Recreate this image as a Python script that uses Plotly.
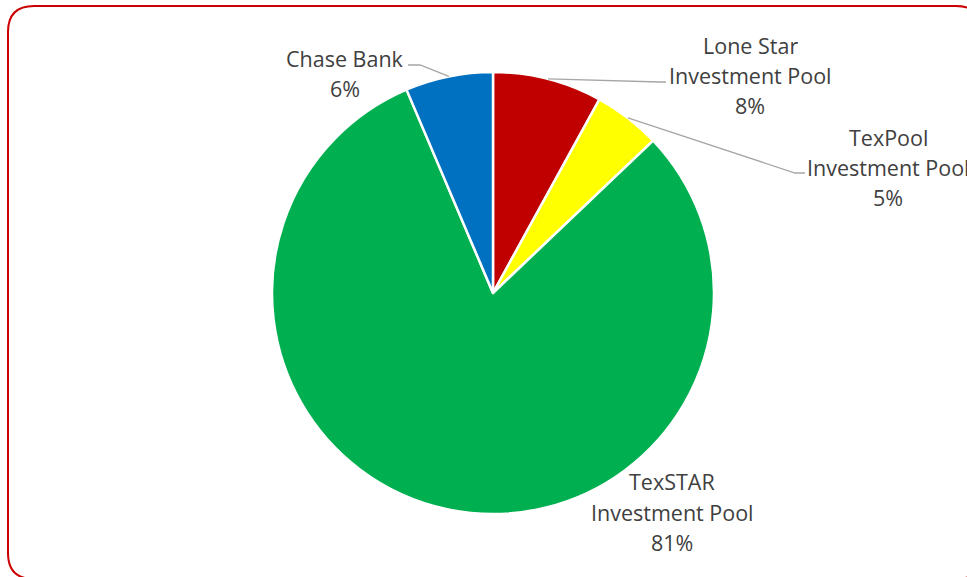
import math
import plotly.graph_objects as go

# ---- data ----
categories = ["Lone Star Investment Pool", "TexPool Investment Pool", "TexSTAR Investment Pool", "Chase Bank"]
values = [8.0, 4.9, 80.7, 6.4]
label_lines = [["Lone Star", "Investment Pool"], ["TexPool", "Investment Pool"], ["TexSTAR", "Investment Pool"], ["Chase Bank"]]
colors = ["#C00000", "#FFFF00", "#00B050", "#0070C0"]

W, H = 967, 577
CX, CY, R = 493, 293, 221

# label layout (pixel): text centre x, first line y, leader elbow (x,y), leader end x
label_layout = [
    dict(cx=750, y0=45, elbow=(660, 82), end=666),
    dict(cx=888, y0=137, elbow=(795, 173), end=805),
    dict(cx=672, y0=482, elbow=None, end=None),
    dict(cx=345, y0=58, elbow=(420, 65), end=408),
]
LINE_H = 30


def px(x, y):
    return x / W, 1 - y / H


fig = go.Figure()
fig.add_trace(go.Pie(
    labels=categories, values=values, sort=False, direction="clockwise", rotation=0,
    marker=dict(colors=colors, line=dict(color="white", width=2.5)),
    textinfo="none", hoverinfo="label+percent", showlegend=False,
    domain=dict(x=[(CX - R) / W, (CX + R) / W], y=[(H - CY - R) / H, (H - CY + R) / H]),
))

total = sum(values)
annotations = []
shapes = []
cum = 0.0
for i, v in enumerate(values):
    mid = (cum + v / 2) / total * 2 * math.pi
    cum += v
    pct = f"{round(v / total * 100)}%"
    lines = label_lines[i] + [pct]
    lay = label_layout[i]
    for k, t in enumerate(lines):
        x, y = px(lay["cx"], lay["y0"] + k * LINE_H)
        annotations.append(dict(x=x, y=y, xref="paper", yref="paper", text=t, showarrow=False,
                                xanchor="center", yanchor="middle",
                                font=dict(family="Open Sans", size=21.5, color="#404040")))
    if lay["elbow"] is not None:
        sx = CX + R * math.sin(mid)
        sy = CY - R * math.cos(mid)
        ex, ey = lay["elbow"]
        p1 = px(sx, sy); p2 = px(ex, ey); p3 = px(lay["end"], ey)
        shapes.append(dict(type="path", xref="paper", yref="paper",
                           path=f"M {p1[0]} {p1[1]} L {p2[0]} {p2[1]} L {p3[0]} {p3[1]}",
                           line=dict(color="#A6A6A6", width=1.3)))

# rounded border
x0, y0, x1, y1, rr = 8, 6, 982, 579, 26
def P(x, y):
    a, b = px(x, y)
    return f"{a} {b}"
path = (f"M {P(x0 + rr, y0)} L {P(x1 - rr, y0)} Q {P(x1, y0)} {P(x1, y0 + rr)} "
        f"L {P(x1, y1 - rr)} Q {P(x1, y1)} {P(x1 - rr, y1)} L {P(x0 + rr, y1)} "
        f"Q {P(x0, y1)} {P(x0, y1 - rr)} L {P(x0, y0 + rr)} Q {P(x0, y0)} {P(x0 + rr, y0)} Z")
shapes.append(dict(type="path", xref="paper", yref="paper", path=path,
                   line=dict(color="#CC0000", width=2), fillcolor="rgba(0,0,0,0)"))

fig.update_layout(width=W, height=H, margin=dict(l=0, r=0, t=0, b=0),
                  paper_bgcolor="white", plot_bgcolor="white",
                  annotations=annotations, shapes=shapes)
fig.write_html("out.html", config={"displayModeBar": False},
               post_script="document.body.style.margin='0';document.body.style.overflow='hidden';")
